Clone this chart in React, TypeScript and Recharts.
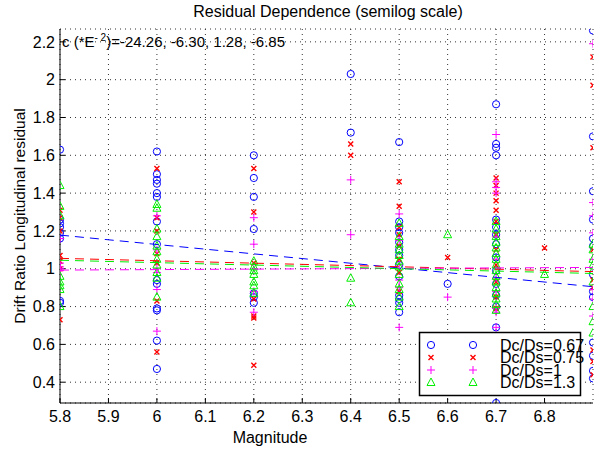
import { CartesianGrid, Scatter, ScatterChart, XAxis, YAxis } from 'recharts';

const FONT = '"Liberation Sans", Arial, Helvetica, sans-serif';

const magnitudes = [5.8, 6, 6.2, 6.4, 6.5, 6.6, 6.7, 6.8, 6.9];
const xTicks = [5.8, 5.9, 6, 6.1, 6.2, 6.3, 6.4, 6.5, 6.6, 6.7, 6.8];
const yTicks = [0.4, 0.6, 0.8, 1, 1.2, 1.4, 1.6, 1.8, 2, 2.2];

// residuals per magnitude column, one list per Dc/Ds ratio
const residual067 = [
  [1.63, 1.26, 1.24, 1.22, 1.19, 1.16, 0.83, 0.82],
  [1.62, 1.5, 1.47, 1.45, 1.4, 1.38, 1.25, 1.13, 0.94, 0.92, 0.79, 0.78, 0.62, 0.47],
  [1.6, 1.48, 1.38, 1.21, 0.87, 0.85, 0.82],
  [2.03, 1.72],
  [1.67, 1.25, 1.22, 1.19, 1.14, 1.1, 1.07, 1.02, 0.96, 0.86, 0.84, 0.82, 0.77],
  [0.92],
  [1.87, 1.66, 1.64, 1.6, 1.26, 1.22, 1.18, 1.13, 1.06, 0.99, 0.92, 0.86, 0.8, 0.69, 0.29],
  [],
  [2.26, 1.7, 1.41, 1.26, 1.16, 1.12, 0.97, 0.88, 0.85, 0.61, 0.54, 0.46, 0.42],
];
const residual075 = [
  [1.31, 1.27, 1.2, 1.07, 1.04, 1.0, 0.73],
  [1.53, 1.27, 1.2, 1.08, 1.03, 0.83, 0.56],
  [1.53, 1.3, 1.03, 0.84, 0.75, 0.74, 0.49],
  [1.66, 1.6],
  [1.46, 1.33, 1.22, 1.18, 1.12, 1.05, 0.98, 0.88],
  [1.06],
  [1.48, 1.44, 1.4, 1.36, 1.31, 1.25, 1.18, 1.1, 1.02, 0.93, 0.85, 0.79],
  [1.11],
  [2.12, 1.97, 1.64, 1.1, 0.94, 0.9, 0.57, 0.51, 0.44],
];
const residual100 = [
  [1.16, 1.03, 1.01, 1.0, 0.99],
  [1.28, 1.1, 1.0, 0.98, 0.89, 0.67],
  [1.27, 1.13, 1.0, 0.88, 0.77],
  [1.47, 1.18],
  [1.29, 1.15, 1.02, 0.94, 0.9, 0.69],
  [0.85],
  [1.71, 1.46, 1.43, 1.4, 1.17, 1.05, 0.95, 0.88, 0.79, 0.77, 0.69],
  [],
  [2.19, 1.35, 1.28, 1.19, 1.05, 0.89, 0.84, 0.75],
];
const residual130 = [
  [1.44, 1.33, 1.28, 0.96, 0.93, 0.91, 0.89, 0.8],
  [1.34, 1.32, 1.21, 1.17, 1.12, 1.09, 1.05, 1.02, 0.98, 0.95, 0.85],
  [1.04, 1.01, 0.99, 0.97, 0.93, 0.91, 0.87],
  [0.95, 0.82],
  [1.24, 1.17, 1.13, 1.1, 1.07, 1.04, 1.01, 0.97, 0.92, 0.89, 0.85, 0.8],
  [1.18],
  [1.25, 1.21, 1.17, 1.14, 1.11, 1.08, 1.05, 1.02, 0.99, 0.96, 0.93, 0.9, 0.87, 0.84, 0.81, 0.78],
  [0.97],
  [1.13, 1.1, 1.05, 1.02, 0.99, 0.93, 0.8, 0.72, 0.66],
];

// fitted trend lines, end values at 5.8 and 6.9
const fitMagnitudes = [5.8, 6.9];
const fit067 = [1.178, 0.905];
const fit075 = [1.055, 0.985];
const fit100 = [0.993, 1.007];
const fit130 = [1.045, 0.975];

const legendLabels = ['Dc/Ds=0.67', 'Dc/Ds=0.75', 'Dc/Ds=1', 'Dc/Ds=1.3'];

const BLUE = '#0000ff';
const RED = '#ff0000';
const MAGENTA = '#ff00ff';
const GREEN = '#00ee00';

function toPoints(cols: number[][]) {
  return cols.flatMap((col, i) => col.map((y) => ({ x: magnitudes[i], y })));
}

function toFit(vals: number[]) {
  return vals.map((y, i) => ({ x: fitMagnitudes[i], y }));
}

const CircleMark = ({ cx, cy }: any) => <circle cx={cx} cy={cy} r={3.6} fill="none" stroke={BLUE} strokeWidth={1} />;
const XMark = ({ cx, cy }: any) => (
  <path d={`M${cx - 2.5},${cy - 2.5}L${cx + 2.5},${cy + 2.5}M${cx - 2.5},${cy + 2.5}L${cx + 2.5},${cy - 2.5}`} stroke={RED} strokeWidth={1.4} />
);
const PlusMark = ({ cx, cy }: any) => (
  <path d={`M${cx - 4},${cy}L${cx + 4},${cy}M${cx},${cy - 4}L${cx},${cy + 4}`} stroke={MAGENTA} strokeWidth={1} />
);
const TriMark = ({ cx, cy }: any) => (
  <path d={`M${cx},${cy - 4.5}L${cx - 4},${cy + 3}L${cx + 4},${cy + 3}Z`} fill="none" stroke={GREEN} strokeWidth={1} />
);
const NoMark = () => <g />;

const marks = [CircleMark, XMark, PlusMark, TriMark];
const tickStyle = { fill: '#000', fontSize: 16, fontFamily: FONT };

export default function App() {
  return (
    <div style={{ position: 'absolute', left: 0, top: 0, width: 598, height: 452, background: '#fff', fontFamily: FONT }}>
      <ScatterChart width={598} height={452} margin={{ top: 29, right: 5, bottom: 19, left: 0 }}>
        <CartesianGrid stroke="#333" strokeDasharray="1 4" />
        <XAxis
          type="number" dataKey="x" domain={[5.8, 6.9]} ticks={xTicks} allowDataOverflow
          height={30} tickSize={-5} tickMargin={13} tick={tickStyle}
          axisLine={{ stroke: '#000' }} tickLine={{ stroke: '#000' }}
        />
        <XAxis
          xAxisId="top" orientation="top" type="number" domain={[5.8, 6.9]} ticks={xTicks} allowDataOverflow
          height={0} tickSize={-5} tick={() => <g />} axisLine={{ stroke: '#000' }} tickLine={{ stroke: '#000' }}
        />
        <YAxis
          type="number" dataKey="y" domain={[0.29, 2.268]} ticks={yTicks} allowDataOverflow
          width={60} tickSize={-5} tickMargin={10} tick={tickStyle}
          axisLine={{ stroke: '#000' }} tickLine={{ stroke: '#000' }}
        />
        <YAxis
          yAxisId="right" orientation="right" type="number" domain={[0.29, 2.268]} ticks={yTicks} allowDataOverflow
          width={0} tickSize={-5} tick={() => <g />} axisLine={{ stroke: '#000' }} tickLine={{ stroke: '#000' }}
        />
        <Scatter data={toPoints(residual067)} shape={CircleMark} isAnimationActive={false} />
        <Scatter data={toPoints(residual075)} shape={XMark} isAnimationActive={false} />
        <Scatter data={toPoints(residual100)} shape={PlusMark} isAnimationActive={false} />
        <Scatter data={toPoints(residual130)} shape={TriMark} isAnimationActive={false} />
        <Scatter data={toFit(fit067)} shape={NoMark} line={{ stroke: BLUE, strokeWidth: 1, strokeDasharray: '9 6' }} isAnimationActive={false} />
        <Scatter data={toFit(fit075)} shape={NoMark} line={{ stroke: RED, strokeWidth: 1, strokeDasharray: '9 6' }} isAnimationActive={false} />
        <Scatter data={toFit(fit100)} shape={NoMark} line={{ stroke: MAGENTA, strokeWidth: 1, strokeDasharray: '9 6' }} isAnimationActive={false} />
        <Scatter data={toFit(fit130)} shape={NoMark} line={{ stroke: GREEN, strokeWidth: 1, strokeDasharray: '9 6' }} isAnimationActive={false} />
      </ScatterChart>
      <svg width={598} height={452} style={{ position: 'absolute', left: 0, top: 0, pointerEvents: 'none' }} fontFamily={FONT}>
        <text x={328} y={17} textAnchor="middle" fontSize={16}>Residual Dependence (semilog scale)</text>
        <text x={270} y={443} textAnchor="middle" fontSize={16}>Magnitude</text>
        <text transform="translate(25,216) rotate(-90)" textAnchor="middle" fontSize={15.5}>Drift Ratio Longitudinal residual</text>
        <text x={62} y={47} fontSize={15}>
          c (*E<tspan fontSize={10} dy={-6}>- 2</tspan><tspan dy={6}>)=-24.26, -6.30, 1.28, -6.85</tspan>
        </text>
        <rect x={419.5} y={332.5} width={161} height={63} fill="#fff" stroke="#000" strokeWidth={1.5} />
        {legendLabels.map((label, i) => {
          const Mark = marks[i];
          const cy = 345 + i * 12.5;
          return (
            <g key={label}>
              <Mark cx={431} cy={cy} />
              <Mark cx={473} cy={cy} />
              <text x={500} y={cy + 5.5} fontSize={16}>{label}</text>
            </g>
          );
        })}
      </svg>
    </div>
  );
}
